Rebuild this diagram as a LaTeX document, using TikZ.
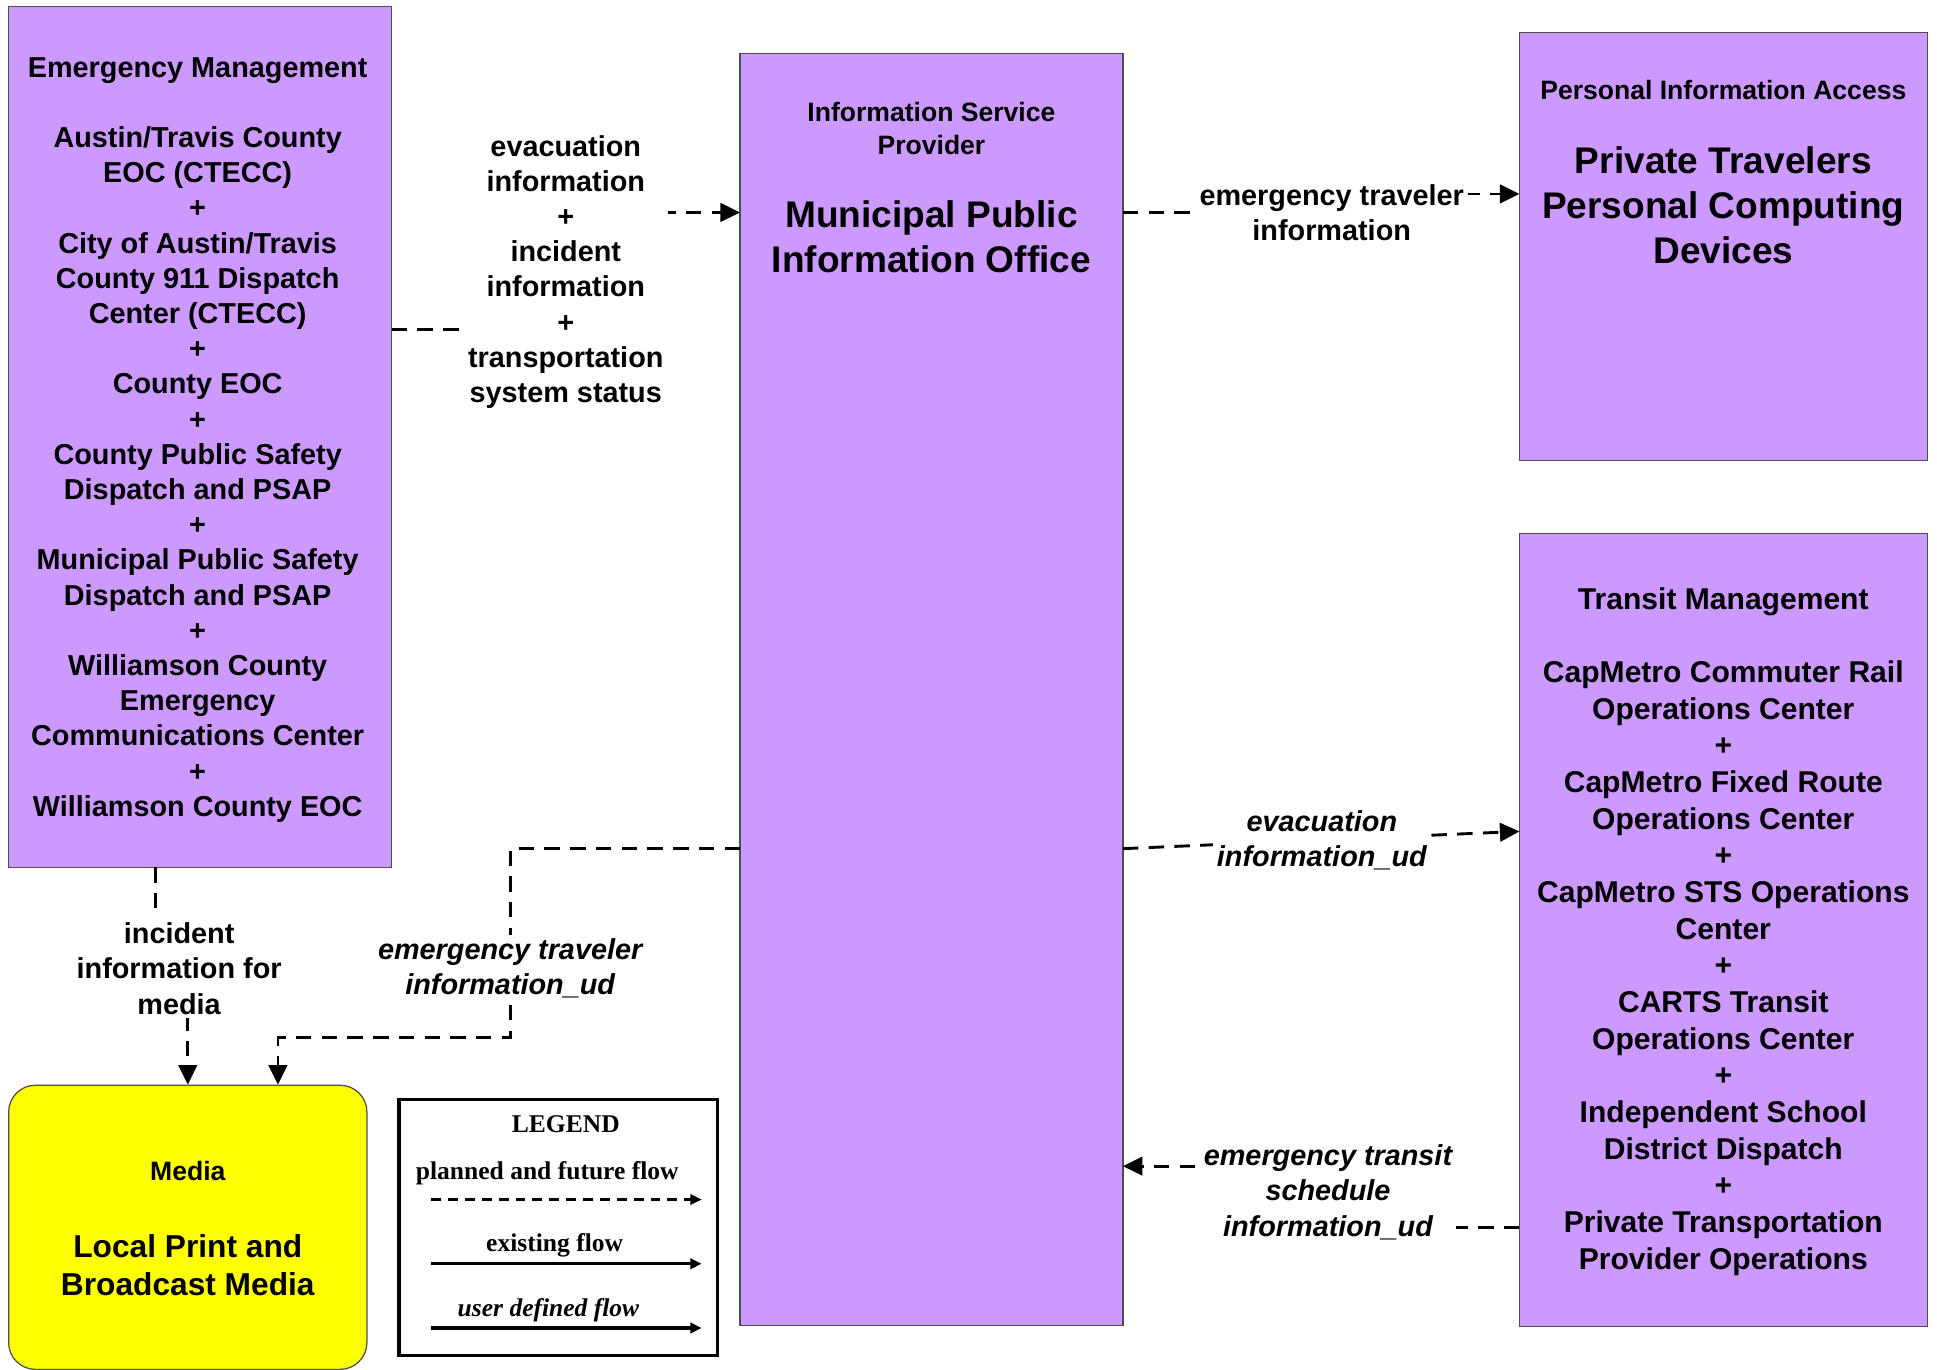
\documentclass[tikz,border=0pt]{standalone}
\usepackage{fontspec}
\setmainfont{Liberation Sans}
\newfontfamily\legendfont{Liberation Serif}
\usetikzlibrary{arrows.meta}
\definecolor{boxpurple}{HTML}{CC99FF}
\definecolor{boxedge}{HTML}{4D4D4D}
\definecolor{mediayellow}{HTML}{FFFF00}
\begin{document}
\begin{tikzpicture}[x=0.6pt,y=0.6pt,
  entity/.style={draw=boxedge,line width=0.6pt,fill=boxpurple,inner sep=0pt,outer sep=0pt},
  txt/.style={align=center,inner sep=0pt,font=\fontsize{14}{17.1}\selectfont\bfseries},
  txttm/.style={align=center,inner sep=0pt,font=\fontsize{14.6}{17.8}\selectfont\bfseries},
  small/.style={align=center,inner sep=0pt,font=\fontsize{12.9}{15.6}\selectfont\bfseries},
  big/.style={align=center,inner sep=0pt,font=\fontsize{18}{21.9}\selectfont\bfseries},
  flowline/.style={line width=1.4pt,dash pattern=on 7.5pt off 5pt,-{Triangle[length=9.5pt,width=9pt]}},
  lbl/.style={fill=white,align=center,inner sep=2pt,font=\fontsize{14}{17.1}\selectfont\bfseries},
  ulbl/.style={fill=white,align=center,inner sep=2pt,font=\fontsize{14}{17.1}\selectfont\bfseries\itshape},
  legtxt/.style={inner sep=0pt,font=\legendfont\fontsize{12.4}{14}\selectfont\bfseries}
]
\useasboundingbox (0,0) rectangle (1568,-1109);

% boxes
\node[entity,minimum width=186pt,minimum height=418.2pt] (em) at (162,-353.5) {};
\node[entity,minimum width=186pt,minimum height=618pt] (isp) at (754,-558) {};
\node[entity,minimum width=198pt,minimum height=208.2pt] (pia) at (1395,-199.5) {};
\node[entity,minimum width=198pt,minimum height=385.2pt] (tm) at (1395,-753) {};
\node[draw=boxedge,line width=0.6pt,fill=mediayellow,rounded corners=13pt,inner sep=0pt,
      minimum width=174pt,minimum height=138pt] (media) at (152,-993.5) {};
\node[draw=black,line width=1.5pt,fill=white,inner sep=0pt,
      minimum width=154.8pt,minimum height=124.2pt] (legend) at (452,-993.5) {};

% box texts
\node[txt] (emtxt) at (160,-356) {Emergency Management\\[17.1pt]
Austin/Travis County\\EOC (CTECC)\\+\\City of Austin/Travis\\County 911 Dispatch\\Center (CTECC)\\+\\County EOC\\+\\County Public Safety\\Dispatch and PSAP\\+\\Municipal Public Safety\\Dispatch and PSAP\\+\\Williamson County\\Emergency\\Communications Center\\+\\Williamson County EOC};

\node[small] (isptype) at (754,-104) {Information Service\\Provider};
\node[big] (ispname) at (754,-192) {Municipal Public\\Information Office};

\node[small] (piatype) at (1395,-73) {Personal Information Access};
\node[big] (pianame) at (1395,-166) {Private Travelers\\Personal Computing\\Devices};

\node[txttm] (tmtxt) at (1395,-754) {Transit Management\\[17.8pt]
CapMetro Commuter Rail\\Operations Center\\+\\CapMetro Fixed Route\\Operations Center\\+\\CapMetro STS Operations\\Center\\+\\CARTS Transit\\Operations Center\\+\\Independent School\\District Dispatch\\+\\Private Transportation\\Provider Operations};

\node[small] (mediatype) at (152,-948) {Media};
\node[align=center,inner sep=0pt,font=\fontsize{15.4}{18.6}\selectfont\bfseries] (medianame) at (152,-1024) {Local Print and\\Broadcast Media};

% connectors
\draw[flowline] (em.east |- 0,-267) -- (458,-267) -- (458,-172) -- (isp.west |- 0,-172);
\draw[flowline] (isp.east |- 0,-172) -- (1078,-172) -- (1078,-157) -- (pia.west |- 0,-157);
\draw[flowline] (isp.east |- 0,-687) -- (tm.west |- 0,-673);
\draw[flowline] (tm.west |- 0,-994) -- (1075,-994) -- (1075,-944) -- (isp.east |- 0,-944);
\draw[flowline] (isp.west |- 0,-687) -- (413,-687) -- (413,-840) -- (225,-840) -- (media.north -| 225,0);
\draw[flowline] (em.south -| 126,0) -- (126,-783) -- (152,-783) -- (media.north -| 152,0);

% connector labels
\node[lbl] (l1) at (458,-220) {evacuation\\information\\+\\incident\\information\\+\\transportation\\system status};
\node[lbl] (l2) at (1078,-172) {emergency traveler\\information};
\node[ulbl] (l3) at (1070,-680) {evacuation\\information\_ud};
\node[ulbl] (l4) at (1075,-965) {emergency transit\\schedule\\information\_ud};
\node[ulbl] (l5) at (413,-784) {emergency traveler\\information\_ud};
\node[lbl] (l6) at (145,-784) {incident\\information for\\media};

% legend
\node[legtxt] (legtitle) at (458,-910) {LEGEND};
\node[legtxt] (legplanned) at (443,-950) {planned and future flow};
\node[legtxt] (legexist) at (449,-1008) {existing flow};
\node[legtxt,font=\legendfont\fontsize{12.4}{14}\selectfont\bfseries\itshape] (leguser) at (444,-1061) {user defined flow};
\coordinate (lpa) at (349,-971); \coordinate (lpb) at (568,-971);
\coordinate (lea) at (349,-1023); \coordinate (leb) at (568,-1023);
\coordinate (lua) at (349,-1075); \coordinate (lub) at (568,-1075);
\draw[line width=1.1pt,dash pattern=on 4.8pt off 3.4pt,-{Triangle[length=5.5pt,width=5pt]}] (lpa) -- (lpb);
\draw[line width=1.5pt,-{Triangle[length=5.5pt,width=5pt]}] (lea) -- (leb);
\draw[line width=1.5pt,-{Triangle[length=5.5pt,width=5pt]}] (lua) -- (lub);
\end{tikzpicture}
\end{document}
